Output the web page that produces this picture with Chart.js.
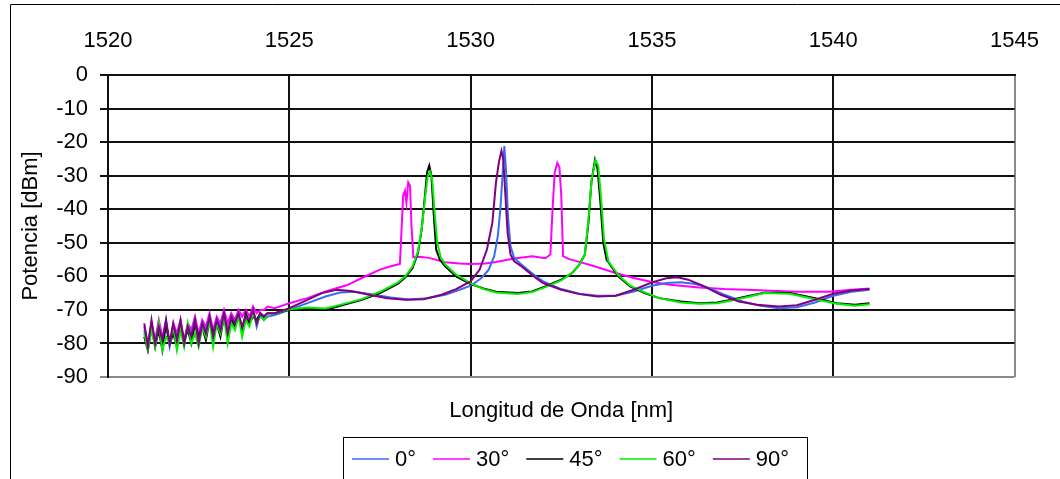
<!DOCTYPE html>
<html>
<head>
<meta charset="utf-8">
<script src="https://cdn.jsdelivr.net/npm/chart.js@4.4.0/dist/chart.umd.min.js"></script>
<style>
  html, body { margin: 0; padding: 0; background: #fff; }
  #wrap { position: relative; width: 1060px; height: 479px; overflow: hidden; }
</style>
</head>
<body>
<div id="wrap"><canvas id="chart" width="1060" height="479"></canvas></div>
<script>
// ---- datos ----
const seriesLabels = ['0°', '30°', '45°', '60°', '90°'];
const seriesColors = ['#3b6cf0', '#ff00ff', '#000000', '#00ee00', '#800080'];
const xTicks = [1520, 1525, 1530, 1535, 1540, 1545];
const yTicks = [0, -10, -20, -30, -40, -50, -60, -70, -80, -90];
const xTitle = 'Longitud de Onda [nm]';
const yTitle = 'Potencia [dBm]';

// zona ruidosa (1521 - 1524.4 nm)
const wlNoise = [1521.0, 1521.1, 1521.2, 1521.3, 1521.4, 1521.5, 1521.6, 1521.7, 1521.8, 1521.9,
  1522.0, 1522.1, 1522.2, 1522.3, 1522.4, 1522.5, 1522.6, 1522.7, 1522.8, 1522.9,
  1523.0, 1523.1, 1523.2, 1523.3, 1523.4, 1523.5, 1523.6, 1523.7, 1523.8, 1523.9,
  1524.0, 1524.1, 1524.2, 1524.3, 1524.4];
const noise0 = [-76, -81, -74, -80, -75, -79, -73, -81, -76, -78, -74, -80, -75, -77, -73, -79, -74, -76, -72, -78,
  -73, -75, -71, -77, -72, -74, -71, -76, -72, -74, -70, -75, -71, -73, -72];
const noise30 = [-75, -80, -74, -79, -73, -78, -75, -80, -74, -77, -73, -79, -74, -76, -72, -77, -73, -75, -71, -76,
  -72, -74, -70, -74, -71, -73, -70, -72, -70, -72, -69, -71, -70, -70, -69];
const noise45 = [-78, -82, -75, -81, -76, -82, -74, -80, -77, -81, -75, -79, -76, -80, -74, -78, -75, -79, -73, -77,
  -74, -78, -72, -77, -73, -75, -72, -76, -71, -74, -72, -73, -71, -72, -71];
const noise60 = [-77, -82, -76, -81, -74, -82, -78, -80, -75, -82, -76, -81, -74, -80, -77, -81, -75, -78, -73, -81,
  -74, -77, -72, -80, -74, -76, -72, -78, -73, -75, -71, -74, -72, -73, -71];
const noise90 = [-74, -81, -73, -80, -75, -79, -73, -80, -74, -79, -73, -80, -75, -78, -73, -80, -74, -77, -72, -78,
  -73, -76, -71, -77, -72, -74, -71, -75, -72, -73, -70, -74, -71, -72, -71];

// 0°
const wl0 = [1524.6, 1525.0, 1525.5, 1526.0, 1526.4, 1526.8, 1527.3, 1527.8, 1528.3, 1528.8, 1529.3, 1529.7,
  1530.0, 1530.3, 1530.5, 1530.65, 1530.75, 1530.82, 1530.88, 1530.93, 1530.98, 1531.03, 1531.1, 1531.2,
  1531.4, 1531.6, 1531.8, 1532.0, 1532.5, 1533.0, 1533.5, 1534.0, 1534.5, 1535.0, 1535.4, 1535.8, 1536.2,
  1536.6, 1537.0, 1537.5, 1538.0, 1538.5, 1539.0, 1539.5, 1540.0, 1540.5, 1541.0];
const p0 = [-71.5, -70, -68, -66, -64.8, -64.6, -65.4, -66.3, -66.9, -66.5, -65.5, -64,
  -62.8, -60.5, -58, -54, -48, -40, -30, -21.2, -29, -42, -51, -54.5,
  -56.5, -58.3, -60, -61.5, -63.8, -65.2, -65.8, -65.8, -64.5, -62.8, -62, -61.8, -62.3,
  -63.5, -65.5, -67.5, -68.8, -69.5, -69.2, -67.8, -65.8, -64.6, -64];

// 30°
const wl30 = [1524.6, 1525.0, 1525.5, 1526.0, 1526.6, 1527.0, 1527.5, 1527.8, 1528.05, 1528.1,
  1528.14, 1528.19, 1528.23, 1528.28, 1528.33, 1528.37, 1528.42, 1528.6, 1528.85, 1529.3,
  1529.7, 1530.0, 1530.4, 1530.7, 1531.2, 1531.7, 1532.06, 1532.2, 1532.26, 1532.32,
  1532.39, 1532.45, 1532.5, 1532.55, 1532.7, 1533.0, 1533.5, 1534.0, 1534.5, 1535.0,
  1535.5, 1536.3, 1537.0, 1537.6, 1538.3, 1539.0, 1539.9, 1540.5, 1541.0];
const p30 = [-69.5, -68, -66.5, -64.5, -62.6, -60.5, -58, -57, -56.3, -45,
  -36, -34.5, -38, -32, -33, -45, -54.3, -54.2, -54.5, -55.8,
  -56.2, -56.3, -56.2, -55.7, -54.7, -54, -54.6, -53.5, -40, -29,
  -26.2, -27.5, -36, -54, -54.8, -55.7, -57.3, -59, -60.5, -61.7,
  -62.5, -63.3, -63.8, -64, -64.3, -64.6, -64.6, -64, -63.6];

// 45°
const wl45 = [1524.6, 1525.0, 1525.5, 1526.0, 1526.5, 1527.0, 1527.5, 1528.0, 1528.2, 1528.4,
  1528.55, 1528.65, 1528.74, 1528.8, 1528.86, 1528.92, 1528.98, 1529.05, 1529.15, 1529.3,
  1529.6, 1530.0, 1530.35, 1530.7, 1531.3, 1531.7, 1532.06, 1532.5, 1532.8, 1533.0,
  1533.15, 1533.25, 1533.33, 1533.43, 1533.5, 1533.58, 1533.66, 1533.75, 1534.07, 1534.4,
  1534.8, 1535.2, 1535.8, 1536.3, 1536.8, 1537.2, 1537.7, 1538.1, 1538.8, 1539.5,
  1540.1, 1540.6, 1541.0];
const p45 = [-71, -70, -69.5, -70, -68.5, -67, -65, -62.2, -60.3, -57.5,
  -53, -46, -36, -29, -27, -30, -41, -52, -55, -57,
  -60, -62.3, -63.6, -64.6, -65, -64.5, -63, -61, -59, -56.5,
  -53.5, -44, -32, -25.3, -28, -38, -50, -55, -60, -63,
  -65, -66.5, -67.5, -68, -67.8, -67, -65.8, -64.9, -65, -66.5,
  -68, -68.5, -68];

// 60°
const wl60 = [1524.6, 1525.0, 1525.5, 1526.0, 1526.5, 1527.0, 1527.5, 1528.0, 1528.2, 1528.4,
  1528.55, 1528.66, 1528.75, 1528.82, 1528.88, 1528.94, 1529.0, 1529.08, 1529.18, 1529.3,
  1529.6, 1530.0, 1530.35, 1530.7, 1531.3, 1531.7, 1532.06, 1532.5, 1532.8, 1533.0,
  1533.15, 1533.25, 1533.34, 1533.44, 1533.52, 1533.6, 1533.68, 1533.8, 1534.07, 1534.4,
  1534.8, 1535.2, 1535.8, 1536.3, 1536.8, 1537.2, 1537.7, 1538.1, 1538.8, 1539.5,
  1540.1, 1540.6, 1541.0];
const p60 = [-71, -69.8, -69.3, -69.6, -68.2, -66.8, -64.6, -61.8, -60, -57,
  -52.5, -45, -36, -30, -28.8, -31, -40, -50, -54.5, -56.5,
  -59.5, -62, -63.8, -64.8, -65.3, -64.7, -63.2, -61.2, -59, -56.5,
  -53.5, -43, -31, -25.4, -27, -37, -49, -55.5, -59.6, -62.8,
  -64.8, -66.5, -67.8, -68.2, -68, -67.2, -66, -65, -65.2, -66.8,
  -68.2, -68.8, -68.3];

// 90°
const wl90 = [1524.6, 1525.0, 1525.5, 1525.9, 1526.3, 1526.7, 1527.2, 1527.7, 1528.2, 1528.7,
  1529.2, 1529.6, 1530.0, 1530.25, 1530.45, 1530.6, 1530.7, 1530.78, 1530.85, 1530.9,
  1530.96, 1531.02, 1531.1, 1531.2, 1531.4, 1531.6, 1531.8, 1532.0, 1532.5, 1533.0,
  1533.5, 1534.0, 1534.5, 1535.0, 1535.4, 1535.7, 1536.0, 1536.4, 1536.9, 1537.4,
  1537.9, 1538.5, 1539.0, 1539.5, 1540.0, 1540.5, 1541.0];
const p90 = [-71, -69.5, -67, -65, -64, -64.4, -65.5, -66.5, -67, -66.8,
  -65.5, -63.8, -61.5, -58, -52, -44, -32, -26, -22.6, -25,
  -36, -47, -53.5, -55.5, -57, -58.8, -60.5, -62, -64, -65.3,
  -66, -65.8, -64, -61.8, -60.6, -60.3, -61, -62.8, -65.5, -67.5,
  -68.5, -69, -68.6, -67, -65.2, -64.2, -63.8];

const FONT = "'Liberation Sans', Arial, sans-serif";
Chart.defaults.font.family = FONT;
Chart.defaults.color = '#000';

function pts(wlA, pA, wlB, pB) {
  const wl = wlA.concat(wlB), p = pA.concat(pB);
  return wl.map((x, i) => ({ x: x, y: p[i] }));
}

const allData = [
  pts(wlNoise, noise0, wl0, p0),
  pts(wlNoise, noise30, wl30, p30),
  pts(wlNoise, noise45, wl45, p45),
  pts(wlNoise, noise60, wl60, p60),
  pts(wlNoise, noise90, wl90, p90)
];
const drawOrder = [4, 5, 3, 2, 1]; // mayor = se dibuja debajo

// leyenda con recuadro + título del eje X + marco exterior
const extras = {
  id: 'extras',
  afterDraw(chart) {
    const ctx = chart.ctx, area = chart.chartArea;
    ctx.save();
    ctx.strokeStyle = '#000';
    ctx.lineWidth = 1;
    ctx.beginPath();
    ctx.moveTo(10.5, 479);
    ctx.lineTo(10.5, 4.5);
    ctx.lineTo(1060, 4.5);
    ctx.stroke();

    ctx.fillStyle = '#000';
    ctx.font = '22px ' + FONT;
    ctx.textAlign = 'center';
    ctx.textBaseline = 'middle';
    ctx.fillText(xTitle, (area.left + area.right) / 2, 411);

    // leyenda
    ctx.strokeRect(343.5, 437.5, 464, 60);
    ctx.textAlign = 'left';
    let x = 352;
    const ly = 459;
    chart.data.datasets.forEach(ds => {
      ctx.strokeStyle = ds.borderColor;
      ctx.lineWidth = 1.5;
      ctx.beginPath();
      ctx.moveTo(x, ly);
      ctx.lineTo(x + 37, ly);
      ctx.stroke();
      ctx.fillText(ds.label, x + 43, ly + 1);
      x += 43 + ctx.measureText(ds.label).width + 17;
    });
    ctx.restore();
  }
};

new Chart(document.getElementById('chart'), {
  type: 'line',
  data: {
    datasets: seriesLabels.map((lab, i) => ({
      label: lab,
      data: allData[i],
      borderColor: seriesColors[i],
      backgroundColor: seriesColors[i],
      borderWidth: 2,
      pointRadius: 0,
      tension: 0,
      fill: false,
      order: drawOrder[i]
    }))
  },
  options: {
    responsive: false,
    animation: false,
    events: [],
    layout: { padding: { left: 10, top: 4, right: 42, bottom: 102 } },
    plugins: {
      legend: { display: false },
      tooltip: { enabled: false }
    },
    scales: {
      x: {
        type: 'linear',
        position: 'top',
        min: xTicks[0],
        max: xTicks[xTicks.length - 1],
        afterFit: s => { s.height = 71; },
        afterBuildTicks: s => { s.ticks = xTicks.map(v => ({ value: v })); },
        ticks: {
          padding: 21,
          font: { size: 22 },
          color: '#000',
          maxRotation: 0,
          callback: v => String(v)
        },
        grid: {
          drawTicks: false,
          lineWidth: 2,
          color: c => (c.tick && c.tick.value === 1545) ? '#8a8a8a' : '#111'
        },
        border: { display: true, color: '#111', width: 2 }
      },
      y: {
        min: -90,
        max: 0,
        afterFit: s => { s.width = 98; },
        afterBuildTicks: s => { s.ticks = yTicks.map(v => ({ value: v })); },
        ticks: {
          padding: 12,
          font: { size: 22 },
          color: '#000',
          callback: v => String(v)
        },
        grid: {
          tickLength: 8,
          lineWidth: 2,
          color: c => (c.tick && c.tick.value === -90) ? '#8a8a8a' : '#111'
        },
        border: { display: true, color: '#111', width: 2 },
        title: {
          display: true,
          text: yTitle,
          font: { size: 22 },
          color: '#000',
          padding: { top: 8, bottom: 0 }
        }
      }
    }
  },
  plugins: [extras]
});
</script>
</body>
</html>
